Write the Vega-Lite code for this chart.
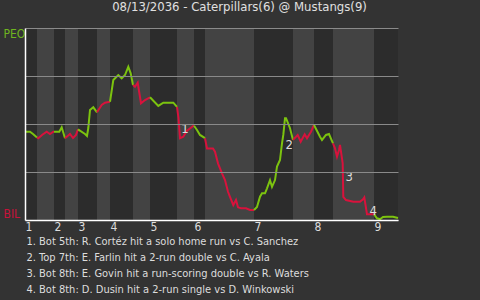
{
  "$schema": "https://vega.github.io/schema/vega-lite/v6.json",
  "width": 373,
  "height": 192,
  "autosize": {"type": "none"},
  "padding": {"left": 25, "top": 28, "right": 82, "bottom": 80},
  "background": "#333333",
  "title": {
    "text": "08/13/2036 - Caterpillars(6) @ Mustangs(9)",
    "anchor": "middle",
    "dx": 28,
    "offset": 13,
    "fontSize": 13,
    "fontWeight": "normal",
    "color": "#e0e0e0",
    "font": "DejaVu Sans Condensed, sans-serif"
  },
  "config": {
    "view": {"stroke": null},
    "font": "DejaVu Sans Condensed, sans-serif"
  },
  "datasets": {
    "halves": [
      {"start": 0, "end": 12, "half": "Top"},
      {"start": 12, "end": 29, "half": "Bottom"},
      {"start": 29, "end": 40, "half": "Top"},
      {"start": 40, "end": 53, "half": "Bottom"},
      {"start": 53, "end": 72, "half": "Top"},
      {"start": 72, "end": 85, "half": "Bottom"},
      {"start": 85, "end": 108, "half": "Top"},
      {"start": 108, "end": 125, "half": "Bottom"},
      {"start": 125, "end": 152, "half": "Top"},
      {"start": 152, "end": 169, "half": "Bottom"},
      {"start": 169, "end": 180, "half": "Top"},
      {"start": 180, "end": 229, "half": "Bottom"},
      {"start": 229, "end": 268, "half": "Top"},
      {"start": 268, "end": 289, "half": "Bottom"},
      {"start": 289, "end": 308, "half": "Top"},
      {"start": 308, "end": 349, "half": "Bottom"},
      {"start": 349, "end": 373, "half": "Top"}
    ],
    "wp": [
      {"hi": 1, "side": "Top", "x": 0, "wp": 0.460},
      {"hi": 1, "side": "Top", "x": 5, "wp": 0.460},
      {"hi": 1, "side": "Top", "x": 8, "wp": 0.448},
      {"hi": 1, "side": "Top", "x": 12, "wp": 0.430},
      {"hi": 2, "side": "Bottom", "x": 12, "wp": 0.430},
      {"hi": 2, "side": "Bottom", "x": 13.3, "wp": 0.426},
      {"hi": 2, "side": "Bottom", "x": 17, "wp": 0.443},
      {"hi": 2, "side": "Bottom", "x": 21.7, "wp": 0.460},
      {"hi": 2, "side": "Bottom", "x": 25, "wp": 0.448},
      {"hi": 2, "side": "Bottom", "x": 28.3, "wp": 0.460},
      {"hi": 2, "side": "Bottom", "x": 29, "wp": 0.460},
      {"hi": 3, "side": "Top", "x": 29, "wp": 0.460},
      {"hi": 3, "side": "Top", "x": 34.3, "wp": 0.460},
      {"hi": 3, "side": "Top", "x": 36.7, "wp": 0.483},
      {"hi": 3, "side": "Top", "x": 40, "wp": 0.426},
      {"hi": 4, "side": "Bottom", "x": 40, "wp": 0.426},
      {"hi": 4, "side": "Bottom", "x": 45, "wp": 0.448},
      {"hi": 4, "side": "Bottom", "x": 48, "wp": 0.427},
      {"hi": 4, "side": "Bottom", "x": 51, "wp": 0.443},
      {"hi": 4, "side": "Bottom", "x": 53, "wp": 0.472},
      {"hi": 5, "side": "Top", "x": 53, "wp": 0.472},
      {"hi": 5, "side": "Top", "x": 60, "wp": 0.448},
      {"hi": 5, "side": "Top", "x": 62, "wp": 0.438},
      {"hi": 5, "side": "Top", "x": 63.3, "wp": 0.479},
      {"hi": 5, "side": "Top", "x": 65, "wp": 0.573},
      {"hi": 5, "side": "Top", "x": 68.3, "wp": 0.587},
      {"hi": 5, "side": "Top", "x": 72, "wp": 0.561},
      {"hi": 6, "side": "Bottom", "x": 72, "wp": 0.561},
      {"hi": 6, "side": "Bottom", "x": 76.7, "wp": 0.599},
      {"hi": 6, "side": "Bottom", "x": 80, "wp": 0.611},
      {"hi": 6, "side": "Bottom", "x": 85, "wp": 0.616},
      {"hi": 7, "side": "Top", "x": 85, "wp": 0.616},
      {"hi": 7, "side": "Top", "x": 88.3, "wp": 0.729},
      {"hi": 7, "side": "Top", "x": 93.3, "wp": 0.755},
      {"hi": 7, "side": "Top", "x": 96.7, "wp": 0.738},
      {"hi": 7, "side": "Top", "x": 100, "wp": 0.755},
      {"hi": 7, "side": "Top", "x": 103.3, "wp": 0.798},
      {"hi": 7, "side": "Top", "x": 105.7, "wp": 0.764},
      {"hi": 7, "side": "Top", "x": 108, "wp": 0.703},
      {"hi": 8, "side": "Bottom", "x": 108, "wp": 0.703},
      {"hi": 8, "side": "Bottom", "x": 110, "wp": 0.694},
      {"hi": 8, "side": "Bottom", "x": 112.7, "wp": 0.715},
      {"hi": 8, "side": "Bottom", "x": 116, "wp": 0.608},
      {"hi": 8, "side": "Bottom", "x": 120, "wp": 0.625},
      {"hi": 8, "side": "Bottom", "x": 125, "wp": 0.639},
      {"hi": 9, "side": "Top", "x": 125, "wp": 0.639},
      {"hi": 9, "side": "Top", "x": 133.3, "wp": 0.594},
      {"hi": 9, "side": "Top", "x": 138.3, "wp": 0.611},
      {"hi": 9, "side": "Top", "x": 148.3, "wp": 0.611},
      {"hi": 9, "side": "Top", "x": 152, "wp": 0.589},
      {"hi": 10, "side": "Bottom", "x": 152, "wp": 0.589},
      {"hi": 10, "side": "Bottom", "x": 153.5, "wp": 0.531},
      {"hi": 10, "side": "Bottom", "x": 155, "wp": 0.426},
      {"hi": 10, "side": "Bottom", "x": 158.3, "wp": 0.434},
      {"hi": 10, "side": "Bottom", "x": 161.7, "wp": 0.464},
      {"hi": 10, "side": "Bottom", "x": 168.3, "wp": 0.490},
      {"hi": 10, "side": "Bottom", "x": 169, "wp": 0.491},
      {"hi": 11, "side": "Top", "x": 169, "wp": 0.491},
      {"hi": 11, "side": "Top", "x": 172, "wp": 0.469},
      {"hi": 11, "side": "Top", "x": 175, "wp": 0.443},
      {"hi": 11, "side": "Top", "x": 180, "wp": 0.426},
      {"hi": 12, "side": "Bottom", "x": 180, "wp": 0.426},
      {"hi": 12, "side": "Bottom", "x": 182, "wp": 0.373},
      {"hi": 12, "side": "Bottom", "x": 188, "wp": 0.373},
      {"hi": 12, "side": "Bottom", "x": 190, "wp": 0.356},
      {"hi": 12, "side": "Bottom", "x": 193, "wp": 0.295},
      {"hi": 12, "side": "Bottom", "x": 197, "wp": 0.243},
      {"hi": 12, "side": "Bottom", "x": 200, "wp": 0.208},
      {"hi": 12, "side": "Bottom", "x": 203, "wp": 0.147},
      {"hi": 12, "side": "Bottom", "x": 205, "wp": 0.121},
      {"hi": 12, "side": "Bottom", "x": 208.3, "wp": 0.078},
      {"hi": 12, "side": "Bottom", "x": 211, "wp": 0.104},
      {"hi": 12, "side": "Bottom", "x": 213, "wp": 0.066},
      {"hi": 12, "side": "Bottom", "x": 216, "wp": 0.061},
      {"hi": 12, "side": "Bottom", "x": 221, "wp": 0.061},
      {"hi": 12, "side": "Bottom", "x": 225, "wp": 0.052},
      {"hi": 12, "side": "Bottom", "x": 229, "wp": 0.052},
      {"hi": 13, "side": "Top", "x": 229, "wp": 0.052},
      {"hi": 13, "side": "Top", "x": 232, "wp": 0.068},
      {"hi": 13, "side": "Top", "x": 235, "wp": 0.121},
      {"hi": 13, "side": "Top", "x": 237, "wp": 0.139},
      {"hi": 13, "side": "Top", "x": 240, "wp": 0.139},
      {"hi": 13, "side": "Top", "x": 242, "wp": 0.165},
      {"hi": 13, "side": "Top", "x": 245, "wp": 0.208},
      {"hi": 13, "side": "Top", "x": 247, "wp": 0.173},
      {"hi": 13, "side": "Top", "x": 250, "wp": 0.208},
      {"hi": 13, "side": "Top", "x": 252, "wp": 0.278},
      {"hi": 13, "side": "Top", "x": 255, "wp": 0.3125},
      {"hi": 13, "side": "Top", "x": 257, "wp": 0.399},
      {"hi": 13, "side": "Top", "x": 258.3, "wp": 0.443},
      {"hi": 13, "side": "Top", "x": 260, "wp": 0.530},
      {"hi": 13, "side": "Top", "x": 261, "wp": 0.530},
      {"hi": 13, "side": "Top", "x": 263, "wp": 0.504},
      {"hi": 13, "side": "Top", "x": 265, "wp": 0.478},
      {"hi": 13, "side": "Top", "x": 268, "wp": 0.417},
      {"hi": 14, "side": "Bottom", "x": 268, "wp": 0.417},
      {"hi": 14, "side": "Bottom", "x": 272.7, "wp": 0.443},
      {"hi": 14, "side": "Bottom", "x": 275.7, "wp": 0.408},
      {"hi": 14, "side": "Bottom", "x": 279.7, "wp": 0.446},
      {"hi": 14, "side": "Bottom", "x": 282, "wp": 0.426},
      {"hi": 14, "side": "Bottom", "x": 286, "wp": 0.460},
      {"hi": 14, "side": "Bottom", "x": 289, "wp": 0.495},
      {"hi": 15, "side": "Top", "x": 289, "wp": 0.495},
      {"hi": 15, "side": "Top", "x": 295, "wp": 0.434},
      {"hi": 15, "side": "Top", "x": 297, "wp": 0.417},
      {"hi": 15, "side": "Top", "x": 301, "wp": 0.443},
      {"hi": 15, "side": "Top", "x": 304, "wp": 0.448},
      {"hi": 15, "side": "Top", "x": 308, "wp": 0.399},
      {"hi": 16, "side": "Bottom", "x": 308, "wp": 0.399},
      {"hi": 16, "side": "Bottom", "x": 310, "wp": 0.373},
      {"hi": 16, "side": "Bottom", "x": 312, "wp": 0.330},
      {"hi": 16, "side": "Bottom", "x": 314, "wp": 0.365},
      {"hi": 16, "side": "Bottom", "x": 315, "wp": 0.391},
      {"hi": 16, "side": "Bottom", "x": 317.7, "wp": 0.295},
      {"hi": 16, "side": "Bottom", "x": 318.3, "wp": 0.121},
      {"hi": 16, "side": "Bottom", "x": 321, "wp": 0.104},
      {"hi": 16, "side": "Bottom", "x": 328.3, "wp": 0.095},
      {"hi": 16, "side": "Bottom", "x": 335, "wp": 0.095},
      {"hi": 16, "side": "Bottom", "x": 338, "wp": 0.108},
      {"hi": 16, "side": "Bottom", "x": 339.3, "wp": 0.118},
      {"hi": 16, "side": "Bottom", "x": 342, "wp": 0.030},
      {"hi": 16, "side": "Bottom", "x": 349, "wp": 0.030},
      {"hi": 17, "side": "Top", "x": 349, "wp": 0.030},
      {"hi": 17, "side": "Top", "x": 352, "wp": 0.009},
      {"hi": 17, "side": "Top", "x": 355, "wp": 0.004},
      {"hi": 17, "side": "Top", "x": 358, "wp": 0.016},
      {"hi": 17, "side": "Top", "x": 362, "wp": 0.017},
      {"hi": 17, "side": "Top", "x": 368, "wp": 0.017},
      {"hi": 17, "side": "Top", "x": 373, "wp": 0.010}
    ],
    "notes": [
      {"n": "1", "x": 160, "wp": 0.474},
      {"n": "2", "x": 264.3, "wp": 0.391},
      {"n": "3", "x": 324.3, "wp": 0.222},
      {"n": "4", "x": 348.3, "wp": 0.048}
    ]
  },
  "layer": [
    {
      "data": {"name": "halves"},
      "mark": {"type": "rect"},
      "encoding": {
        "x": {
          "field": "start",
          "type": "quantitative",
          "scale": {"domain": [0, 373], "nice": false, "zero": false},
          "axis": {
            "values": [0, 29, 53, 85, 125, 169, 229, 289, 349],
            "labelExpr": "'' + (indexof([0, 29, 53, 85, 125, 169, 229, 289, 349], datum.value) + 1)",
            "labelAlign": "left",
            "labelBaseline": "top",
            "labelColor": "#dddddd",
            "labelFontSize": 12,
            "labelPadding": 1,
            "labelFlush": false,
            "labelOverlap": false,
            "ticks": false,
            "tickSize": 0,
            "grid": false,
            "domainColor": "#ffffff",
            "domainWidth": 1.5,
            "zindex": 1,
            "title": [
              "1. Bot 5th: R. Cortéz hit a solo home run vs C. Sanchez",
              "2. Top 7th: E. Farlin hit a 2-run double vs C. Ayala",
              "3. Bot 8th: E. Govin hit a run-scoring double vs R. Waters",
              "4. Bot 8th: D. Dusin hit a 2-run single vs D. Winkowski"
            ],
            "titleAnchor": "start",
            "titleAlign": "left",
            "titleBaseline": "top",
            "titleX": 1,
            "titleY": 15,
            "titleColor": "#dddddd",
            "titleFontSize": 11,
            "titleFontWeight": "normal",
            "titleLineHeight": 16
          }
        },
        "x2": {"field": "end"},
        "fill": {
          "field": "half",
          "type": "nominal",
          "scale": {"domain": ["Top", "Bottom"], "range": ["#2c2c2c", "#434343"]},
          "legend": null
        }
      }
    },
    {
      "data": {"name": "wp"},
      "mark": {"type": "line", "strokeWidth": 2, "interpolate": "linear"},
      "encoding": {
        "x": {"field": "x", "type": "quantitative"},
        "y": {
          "field": "wp",
          "type": "quantitative",
          "scale": {"domain": [0, 1], "nice": false, "zero": false},
          "axis": {
            "values": [0, 0.25, 0.5, 0.75, 1],
            "labelExpr": "datum.value == 1 ? 'PEO' : (datum.value == 0 ? 'BIL' : '')",
            "labelFlush": true,
            "labelFlushOffset": 0,
            "labelAlign": "left",
            "labelPadding": 22,
            "labelFontSize": 12,
            "labelColor": {"condition": {"test": "datum.value == 1", "value": "#6fb51f"}, "value": "#c8123a"},
            "labelOverlap": false,
            "ticks": false,
            "tickSize": 0,
            "grid": true,
            "gridColor": "#8a8a8a",
            "gridWidth": 1,
            "domainColor": "#ffffff",
            "domainWidth": 1.5,
            "zindex": 1,
            "title": null
          }
        },
        "color": {
          "field": "side",
          "type": "nominal",
          "scale": {"domain": ["Top", "Bottom"], "range": ["#7cc30f", "#d8123c"]},
          "legend": null
        },
        "detail": {"field": "hi", "type": "nominal"}
      }
    },
    {
      "data": {"name": "notes"},
      "mark": {"type": "text", "fontSize": 13, "color": "#dddddd", "align": "center", "baseline": "middle"},
      "encoding": {
        "x": {"field": "x", "type": "quantitative"},
        "y": {"field": "wp", "type": "quantitative"},
        "text": {"field": "n"}
      }
    }
  ]
}
